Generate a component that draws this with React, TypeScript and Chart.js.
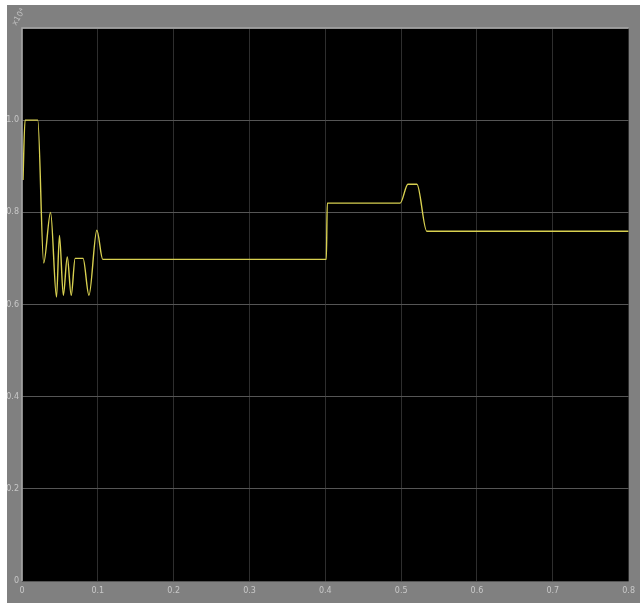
import { useEffect, useRef } from 'react';
import { Chart, registerables } from 'chart.js';

Chart.register(...registerables);

const timeS = [0.0013, 0.004, 0.0208, 0.0286, 0.0377, 0.0455, 0.0494, 0.0545, 0.0597, 0.0649, 0.0701, 0.0805, 0.0883, 0.0987, 0.1065, 0.4013, 0.4026, 0.4987, 0.509, 0.5208, 0.5338, 0.8];
const signal = [0.87, 1.0, 1.0, 0.69, 0.8, 0.616, 0.75, 0.62, 0.703, 0.62, 0.7, 0.7, 0.62, 0.761, 0.698, 0.698, 0.82, 0.82, 0.861, 0.861, 0.759, 0.759];
const xTicks = [0, 0.1, 0.2, 0.3, 0.4, 0.5, 0.6, 0.7, 0.8];
const yTicks = [0, 0.2, 0.4, 0.6, 0.8, 1.0, 1.2];
const exponentLabel = 'x10⁴';

export default function App() {
  const ref = useRef<HTMLCanvasElement | null>(null);

  useEffect(() => {
    document.body.style.margin = '0';
    const canvas = ref.current;
    if (!canvas) return;

    const framePlugin = {
      id: 'frame',
      beforeDraw(chart: any) {
        const { ctx, chartArea } = chart;
        ctx.save();
        ctx.fillStyle = '#ffffff';
        ctx.fillRect(0, 0, chart.width, chart.height);
        ctx.fillStyle = '#808080';
        ctx.fillRect(7, 5, chart.width - 7, chart.height - 5);
        ctx.fillStyle = '#000000';
        ctx.fillRect(chartArea.left, chartArea.top, chartArea.right - chartArea.left, chartArea.bottom - chartArea.top);
        ctx.restore();
      },
      afterDraw(chart: any) {
        const { ctx, chartArea } = chart;
        ctx.save();
        ctx.strokeStyle = '#a8a8a8';
        ctx.lineWidth = 1.5;
        ctx.beginPath();
        ctx.moveTo(chartArea.left, chartArea.bottom);
        ctx.lineTo(chartArea.left, chartArea.top);
        ctx.lineTo(chartArea.right, chartArea.top);
        ctx.stroke();
        ctx.translate(16, 26);
        ctx.rotate(-Math.PI / 3);
        ctx.fillStyle = '#c0c0c0';
        ctx.font = '8px "DejaVu Sans"';
        ctx.fillText(exponentLabel, 0, 0);
        ctx.restore();
      },
    };

    const chart = new Chart(canvas, {
      type: 'line',
      data: {
        datasets: [
          {
            data: timeS.map((t, i) => ({ x: t, y: signal[i] })),
            borderColor: '#d8d050',
            borderWidth: 1.4,
            pointRadius: 0,
            cubicInterpolationMode: 'monotone',
            fill: false,
          },
        ],
      },
      options: {
        animation: false,
        responsive: false,
        devicePixelRatio: 1,
        layout: { padding: { left: 7, top: 28, right: 3, bottom: 0 } },
        plugins: { legend: { display: false }, tooltip: { enabled: false } },
        scales: {
          x: {
            type: 'linear',
            min: 0,
            max: 0.8,
            afterBuildTicks: (scale: any) => {
              scale.ticks = xTicks.map((v) => ({ value: v }));
            },
            afterFit: (scale: any) => {
              scale.height = 22;
            },
            ticks: {
              color: '#c8c8c8',
              font: { size: 8, family: 'DejaVu Sans' },
              padding: 5,
              maxRotation: 0,
              callback: (v: any) => String(Number(v).toFixed(1)).replace(/^0\.0$/, '0'),
            },
            grid: { color: '#2e2e2e', lineWidth: 1, drawTicks: false },
            border: { display: false },
          },
          y: {
            type: 'linear',
            min: 0,
            max: 1.2,
            afterBuildTicks: (scale: any) => {
              scale.ticks = yTicks.map((v) => ({ value: v }));
            },
            afterFit: (scale: any) => {
              scale.width = 15;
            },
            ticks: {
              color: '#c8c8c8',
              font: { size: 8, family: 'DejaVu Sans' },
              padding: 3,
              callback: (v: any) => (Number(v) >= 1.2 ? '' : String(Number(v).toFixed(1)).replace(/^0\.0$/, '0')),
            },
            grid: { color: '#555555', lineWidth: 1, drawTicks: false },
            border: { display: false },
          },
        },
      },
      plugins: [framePlugin],
    } as any);

    return () => chart.destroy();
  }, []);

  return <canvas ref={ref} width={640} height={603} style={{ display: 'block' }} />;
}
